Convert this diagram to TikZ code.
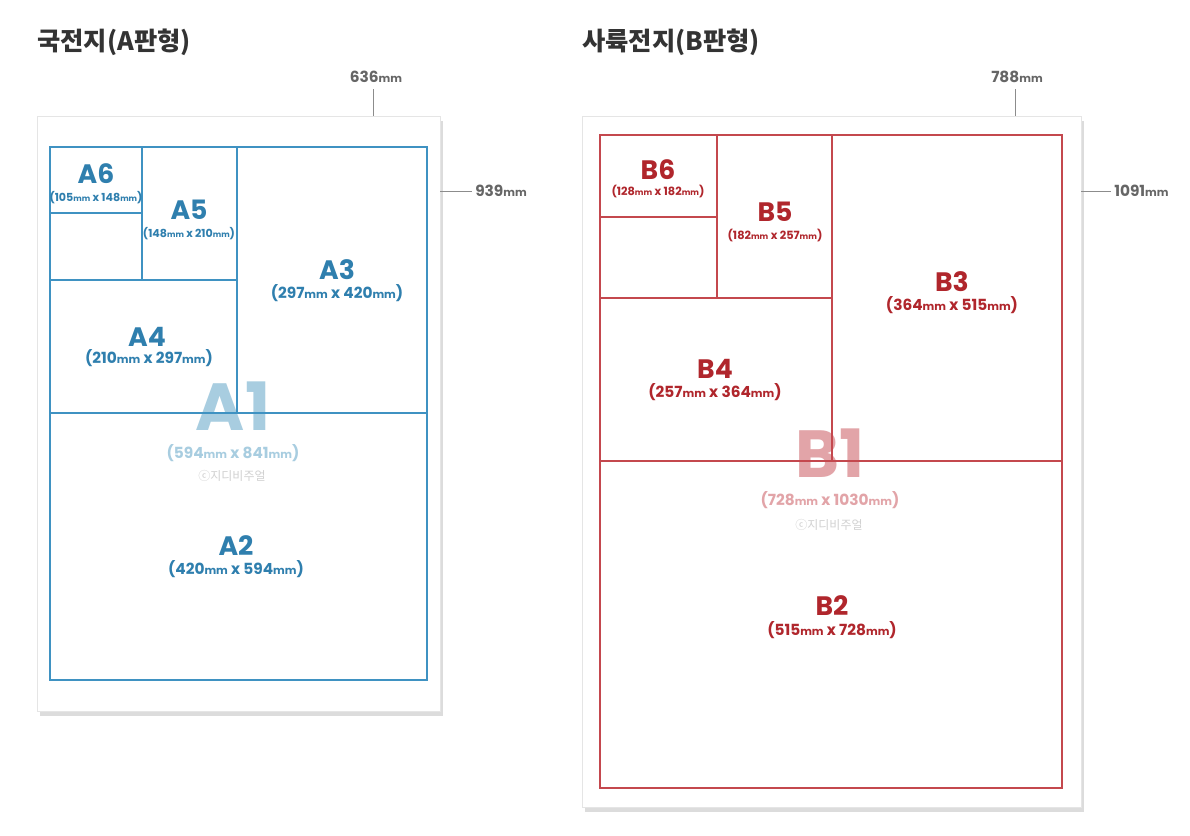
\documentclass[tikz,border=0pt]{standalone}
\usepackage{fontspec}
\setmainfont{Noto Sans CJK KR}
\newfontfamily\labfont{Poppins}
\usetikzlibrary{shadows}
\definecolor{ablue}{HTML}{2F7FAE}
\definecolor{aline}{HTML}{3F92C2}
\definecolor{afade}{HTML}{A8CDE0}
\definecolor{bred}{HTML}{B0262C}
\definecolor{bline}{HTML}{C4484E}
\definecolor{bfade}{HTML}{E2A4A8}
\definecolor{titlegray}{HTML}{333333}
\definecolor{dimgray}{HTML}{666666}
\newcommand{\mmu}{\scalebox{0.72}{mm}}
\tikzset{
  paper/.style={draw=black!10, fill=white, line width=0.6pt,
    drop shadow={opacity=0.3, shadow xshift=2.5pt, shadow yshift=-3.5pt, fill=black!45}},
  abox/.style={draw=aline, line width=0.85pt},
  bbox/.style={draw=bline, line width=0.85pt},
  ttl/.style={font=\bfseries\fontsize{19}{22}\selectfont, text=titlegray, anchor=west, inner sep=0pt},
  dimlab/.style={font=\labfont\bfseries\fontsize{11.5}{13}\selectfont, text=dimgray, inner sep=0pt},
  tick/.style={draw=black!45, line width=0.7pt},
  abig/.style={font=\labfont\bfseries\fontsize{20}{22}\selectfont, text=ablue, inner sep=0pt},
  asub/.style={font=\labfont\bfseries\fontsize{11.5}{13}\selectfont, text=ablue, inner sep=0pt},
  atiny/.style={font=\labfont\bfseries\fontsize{8.3}{9}\selectfont, text=ablue, inner sep=0pt},
  bbig/.style={font=\labfont\bfseries\fontsize{20}{22}\selectfont, text=bred, inner sep=0pt},
  bsub/.style={font=\labfont\bfseries\fontsize{11.5}{13}\selectfont, text=bred, inner sep=0pt},
  btiny/.style={font=\labfont\bfseries\fontsize{8.5}{9}\selectfont, text=bred, inner sep=0pt},
  wmark/.style={font=\fontsize{9}{10}\selectfont, text=black!18, inner sep=0pt},
  huge/.style={font=\labfont\bfseries\fontsize{50}{54}\selectfont, inner sep=0pt, anchor=base},
  fadesub/.style={font=\labfont\bfseries\fontsize{11.5}{13}\selectfont, inner sep=0pt},
}
\begin{document}
\begin{tikzpicture}[x=0.75pt,y=-0.75pt]
\useasboundingbox (0,0) rectangle (1190,836);
% ---------- A series ----------
\node[ttl] (ta) at (37,42) {국전지(A판형)};
\path[paper] (37,116) rectangle (440,711);
% A1 faded label (behind lines)
\node[huge, text=afade] (a1) at (233,430) {A1};
\node[fadesub, text=afade] (a1s) at (233,453) {(594\mmu{} x 841\mmu)};
\node[wmark] (a1w) at (232,476) {ⓒ지디비주얼};
\draw[abox] (50,147) rectangle (427,680);
\draw[abox] (237,147) -- (237,413);
\draw[abox] (50,413) -- (427,413);
\draw[abox] (50,280) -- (237,280);
\draw[abox] (142,147) -- (142,280);
\draw[abox] (50,213) -- (142,213);
\node[abig] (a6) at (96,174) {A6};
\node[atiny] (a6s) at (96,198) {(105\mmu{} x 148\mmu)};
\node[abig] (a5) at (189,210) {A5};
\node[atiny] (a5s) at (189,234) {(148\mmu{} x 210\mmu)};
\node[abig] (a3) at (337,270) {A3};
\node[asub] (a3s) at (337,293) {(297\mmu{} x 420\mmu)};
\node[abig] (a4) at (147,337) {A4};
\node[asub] (a4s) at (149,358) {(210\mmu{} x 297\mmu)};
\node[abig] (a2) at (236,546) {A2};
\node[asub] (a2s) at (236,569) {(420\mmu{} x 594\mmu)};
% dimensions
\node[dimlab] (aw) at (376,77) {636\mmu};
\coordinate (awt) at (373,116);
\draw[tick] (373,89) -- (awt);
\node[dimlab, anchor=west] (ah) at (475,191) {939\mmu};
\coordinate (aht) at (440,191);
\draw[tick] (aht) -- ([xshift=-2pt]ah.west);
% ---------- B series ----------
\node[ttl] (tb) at (582,42) {사륙전지(B판형)};
\path[paper] (582,116) rectangle (1081,807);
\node[huge, text=bfade] (b1) at (830,477) {B1};
\node[fadesub, text=bfade] (b1s) at (830,500) {(728\mmu{} x 1030\mmu)};
\node[wmark] (b1w) at (829,525) {ⓒ지디비주얼};
\draw[bbox] (600,135) rectangle (1062,788);
\draw[bbox] (832,135) -- (832,461);
\draw[bbox] (600,461) -- (1062,461);
\draw[bbox] (600,298) -- (832,298);
\draw[bbox] (717,135) -- (717,298);
\draw[bbox] (600,217) -- (717,217);
\node[bbig] (b6) at (658,170) {B6};
\node[btiny] (b6s) at (658,192) {(128\mmu{} x 182\mmu)};
\node[bbig] (b5) at (775,212) {B5};
\node[btiny] (b5s) at (775,236) {(182\mmu{} x 257\mmu)};
\node[bbig] (b3) at (952,282) {B3};
\node[bsub] (b3s) at (952,305) {(364\mmu{} x 515\mmu)};
\node[bbig] (b4) at (715,369) {B4};
\node[bsub] (b4s) at (715,392) {(257\mmu{} x 364\mmu)};
\node[bbig] (b2) at (832,606) {B2};
\node[bsub] (b2s) at (832,630) {(515\mmu{} x 728\mmu)};
\node[dimlab] (bw) at (1017,77) {788\mmu};
\coordinate (bwt) at (1015,116);
\draw[tick] (1015,89) -- (bwt);
\node[dimlab, anchor=west] (bh) at (1114,191) {1091\mmu};
\coordinate (bht) at (1081,191);
\draw[tick] (bht) -- ([xshift=-2pt]bh.west);
\end{tikzpicture}
\end{document}
